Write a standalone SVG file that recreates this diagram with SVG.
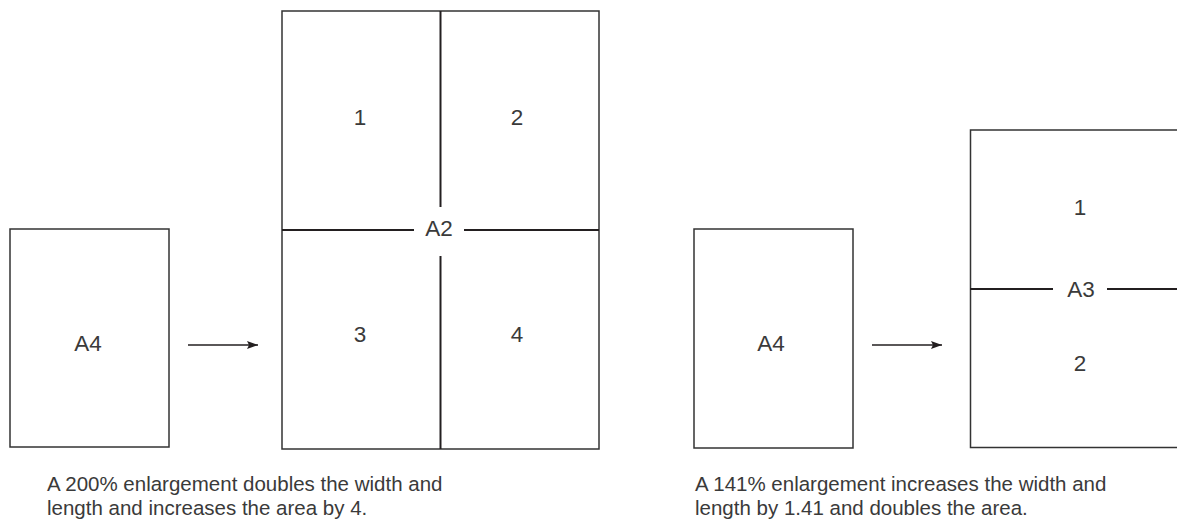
<svg xmlns="http://www.w3.org/2000/svg" width="1177" height="521" viewBox="0 0 1177 521">
<style>
.sheet{fill:#fff;stroke:#333;stroke-width:1.5}
.div{stroke:#231f20;stroke-width:2;fill:none}
.lbl{font-family:"Liberation Sans",Arial,sans-serif;font-size:22.5px;fill:#3a3a3a;text-anchor:middle}
.cap{font-family:"Liberation Sans",Arial,sans-serif;font-size:20.5px;fill:#3a3a3a}
.conn{stroke:#231f20;stroke-width:1.5;fill:none}
</style>
<defs>
<marker id="ah" viewBox="0 0 11 8" refX="11" refY="4" markerWidth="11" markerHeight="8" markerUnits="userSpaceOnUse" orient="auto">
<path d="M0,0 L11,4 L0,8 L2,4 Z" fill="#231f20"/>
</marker>
</defs>
<rect width="1177" height="521" fill="#fff"/>
<g id="a4-left">
<rect class="sheet" x="10" y="229" width="159" height="218"/>
<text class="lbl" x="88" y="351">A4</text>
</g>
<g id="a2">
<rect class="sheet" x="282" y="11" width="317" height="438"/>
<line class="div" x1="440.5" y1="11" x2="440.5" y2="207"/>
<line class="div" x1="440.5" y1="256" x2="440.5" y2="449"/>
<line class="div" x1="282" y1="230" x2="414" y2="230"/>
<line class="div" x1="464" y1="230" x2="599" y2="230"/>
<text class="lbl" x="439" y="235.5">A2</text>
<text class="lbl" x="360" y="125">1</text>
<text class="lbl" x="517" y="125">2</text>
<text class="lbl" x="360" y="342">3</text>
<text class="lbl" x="517" y="342">4</text>
</g>
<g id="a4-right">
<rect class="sheet" x="694" y="229" width="159" height="219"/>
<text class="lbl" x="771" y="351">A4</text>
</g>
<g id="a3">
<rect class="sheet" x="970.5" y="130" width="240" height="317.5"/>
<line class="div" x1="970" y1="289" x2="1053" y2="289"/>
<line class="div" x1="1107" y1="289" x2="1177" y2="289"/>
<text class="lbl" x="1081" y="296.5">A3</text>
<text class="lbl" x="1080" y="215">1</text>
<text class="lbl" x="1080" y="371">2</text>
</g>
<g id="connectors">
<line class="conn" x1="188" y1="345" x2="258" y2="345" marker-end="url(#ah)"/>
<line class="conn" x1="872" y1="345" x2="942" y2="345" marker-end="url(#ah)"/>
</g>
<g id="captions">
<text class="cap" x="47" y="491">A 200% enlargement doubles the width and</text>
<text class="cap" x="47" y="515">length and increases the area by 4.</text>
<text class="cap" x="695" y="491">A 141% enlargement increases the width and</text>
<text class="cap" x="695" y="515">length by 1.41 and doubles the area.</text>
</g>
</svg>
